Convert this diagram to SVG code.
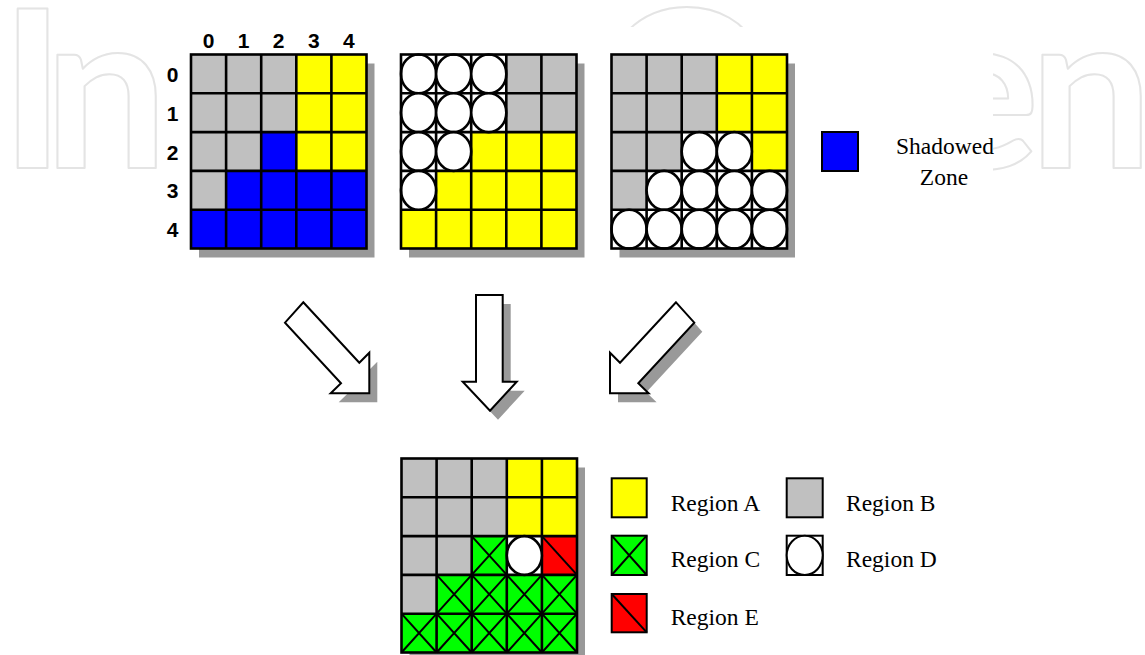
<svg xmlns="http://www.w3.org/2000/svg" xmlns:xlink="http://www.w3.org/1999/xlink" width="1145" height="655" viewBox="0 0 1145 655">
<style>
.wm{font-family:Lato,"Open Sans",sans-serif;font-weight:700;font-size:220px;fill:none;stroke:#e4e4e4;stroke-width:2;stroke-linejoin:round}
.lbl{font-family:"Liberation Sans",Arial,sans-serif;font-weight:700;font-size:21px;fill:#000;text-anchor:middle}
.txt{font-family:"Liberation Serif","Times New Roman",serif;font-size:23.5px;fill:#000}
.sh{fill:#999}
.gy{fill:#c0c0c0}.ye{fill:#ffff00}.bl{fill:#0000ff}.wh{fill:#fff}.gn{fill:#00ff00}.rd{fill:#ff0000}
.ln{fill:none;stroke:#000;stroke-width:2.6}
.ov{fill:#fff;stroke:#000;stroke-width:2.6}
.lg{stroke:#000;stroke-width:2}
.arrow{fill:#fff;stroke:#000;stroke-width:2;stroke-linejoin:miter}
</style>
<defs>
<path id="gl" d="M35.1 0V194M70.2 0V194M105.3 0V194M140.4 0V194M0 38.8H175.5M0 77.6H175.5M0 116.4H175.5M0 155.2H175.5"/>
<ellipse id="ov" cx="17.55" cy="19.4" rx="17.55" ry="19.4"/>
<path id="xx" d="M0 0L35.1 38.8M35.1 0L0 38.8"/>
<polygon id="arL" points="303.3,302.3 359.3,362.7 369.3,352.7 369.3,393.3 330.7,393.3 341,383.3 285,322.7"/>
<polygon id="arM" points="476,295 502.7,295 502.7,381.7 516.7,381.7 490,410.7 462.7,381.7 476,381.7"/>
<polygon id="arR" points="676,302.3 694.3,322.7 638.3,383.3 648.6,393.3 610,393.3 610,352.7 620,362.7"/>
</defs>

<g id="watermark">
<text class="wm" x="0 44" y="168">In</text>
<text class="wm" x="598" y="168">O</text>
<text class="wm" x="922 1029" y="168">en</text>
<rect x="200" y="27" width="793" height="628" fill="#fff"/>
</g>

<g id="grid1">
<g id="grid1-labels" class="lbl">
<text x="208.5" y="48">0</text><text x="243.6" y="48">1</text><text x="278.7" y="48">2</text><text x="313.8" y="48">3</text><text x="348.9" y="48">4</text>
<text x="172.5" y="82">0</text><text x="172.5" y="120.8">1</text><text x="172.5" y="159.6">2</text><text x="172.5" y="198.4">3</text><text x="172.5" y="237.2">4</text>
</g>
<g transform="translate(191,54.5)">
<rect class="sh" x="8" y="9" width="175.5" height="194"/>
<rect class="bl" width="175.5" height="194"/>
<rect class="gy" width="105.3" height="77.6"/>
<rect class="gy" y="77.6" width="70.2" height="38.8"/>
<rect class="gy" y="116.4" width="35.1" height="38.8"/>
<rect class="ye" x="105.3" width="70.2" height="116.4"/>
<use href="#gl" class="ln"/>
<rect class="ln" width="175.5" height="194"/>
</g>
</g>

<g id="grid2" transform="translate(401,54.5)">
<rect class="sh" x="8" y="9" width="175.5" height="194"/>
<rect class="ye" width="175.5" height="194"/>
<rect class="wh" width="105.3" height="77.6"/>
<rect class="wh" y="77.6" width="70.2" height="38.8"/>
<rect class="wh" y="116.4" width="35.1" height="38.8"/>
<rect class="gy" x="105.3" width="70.2" height="77.6"/>
<use href="#gl" class="ln"/>
<g class="ov">
<use href="#ov" x="0" y="0"/><use href="#ov" x="35.1" y="0"/><use href="#ov" x="70.2" y="0"/>
<use href="#ov" x="0" y="38.8"/><use href="#ov" x="35.1" y="38.8"/><use href="#ov" x="70.2" y="38.8"/>
<use href="#ov" x="0" y="77.6"/><use href="#ov" x="35.1" y="77.6"/>
<use href="#ov" x="0" y="116.4"/>
</g>
<rect class="ln" width="175.5" height="194"/>
</g>

<g id="grid3" transform="translate(611.5,54.5)">
<rect class="sh" x="8" y="9" width="175.5" height="194"/>
<rect class="wh" width="175.5" height="194"/>
<rect class="gy" width="105.3" height="77.6"/>
<rect class="gy" y="77.6" width="70.2" height="38.8"/>
<rect class="gy" y="116.4" width="35.1" height="38.8"/>
<rect class="ye" x="105.3" width="70.2" height="77.6"/>
<rect class="ye" x="140.4" y="77.6" width="35.1" height="38.8"/>
<use href="#gl" class="ln"/>
<g class="ov">
<use href="#ov" x="70.2" y="77.6"/><use href="#ov" x="105.3" y="77.6"/>
<use href="#ov" x="35.1" y="116.4"/><use href="#ov" x="70.2" y="116.4"/><use href="#ov" x="105.3" y="116.4"/><use href="#ov" x="140.4" y="116.4"/>
<use href="#ov" x="0" y="155.2"/><use href="#ov" x="35.1" y="155.2"/><use href="#ov" x="70.2" y="155.2"/><use href="#ov" x="105.3" y="155.2"/><use href="#ov" x="140.4" y="155.2"/>
</g>
<rect class="ln" width="175.5" height="194"/>
</g>

<g id="legend-shadowed">
<rect class="bl lg" x="822" y="132" width="36" height="39"/>
<text class="txt" x="945" y="154" text-anchor="middle">Shadowed</text>
<text class="txt" x="944" y="185" text-anchor="middle">Zone</text>
</g>

<g id="connectors">
<g class="sh">
<use href="#arL" transform="translate(8,9)"/>
<use href="#arM" transform="translate(8,9)"/>
<use href="#arR" transform="translate(8,9)"/>
</g>
<g class="arrow">
<use href="#arL"/>
<use href="#arM"/>
<use href="#arR"/>
</g>
</g>

<g id="grid-result" transform="translate(401.5,458.5)">
<rect class="sh" x="8" y="9" width="175.5" height="194"/>
<rect class="gn" width="175.5" height="194"/>
<rect class="gy" width="105.3" height="77.6"/>
<rect class="gy" y="77.6" width="70.2" height="38.8"/>
<rect class="gy" y="116.4" width="35.1" height="38.8"/>
<rect class="ye" x="105.3" width="70.2" height="77.6"/>
<rect class="wh" x="105.3" y="77.6" width="35.1" height="38.8"/>
<rect class="rd" x="140.4" y="77.6" width="35.1" height="38.8"/>
<g class="ln" style="stroke-width:2">
<use href="#xx" x="70.2" y="77.6"/>
<use href="#xx" x="35.1" y="116.4"/><use href="#xx" x="70.2" y="116.4"/><use href="#xx" x="105.3" y="116.4"/><use href="#xx" x="140.4" y="116.4"/>
<use href="#xx" x="0" y="155.2"/><use href="#xx" x="35.1" y="155.2"/><use href="#xx" x="70.2" y="155.2"/><use href="#xx" x="105.3" y="155.2"/><use href="#xx" x="140.4" y="155.2"/>
<path d="M140.4 77.6L175.5 116.4"/>
</g>
<use href="#gl" class="ln"/>
<use href="#ov" class="ov" x="105.3" y="77.6"/>
<rect class="ln" width="175.5" height="194"/>
</g>

<g id="legend-a">
<rect class="ye lg" x="611.7" y="478.3" width="35" height="39"/>
<text class="txt" x="670.7" y="510.7">Region A</text>
</g>
<g id="legend-b">
<rect class="gy lg" x="786.7" y="478.3" width="36" height="39"/>
<text class="txt" x="846" y="510.7">Region B</text>
</g>
<g id="legend-c">
<rect class="gn lg" x="611.7" y="535.7" width="35" height="39.3"/>
<path class="lg" d="M611.7 535.7L646.7 575M646.7 535.7L611.7 575"/>
<text class="txt" x="670.7" y="567.3">Region C</text>
</g>
<g id="legend-d">
<rect class="wh lg" x="786.7" y="535.7" width="36" height="39.3"/>
<ellipse cx="804.7" cy="555.35" rx="18" ry="19.65" fill="#fff" stroke="#000" stroke-width="2"/>
<text class="txt" x="846" y="567.3">Region D</text>
</g>
<g id="legend-e">
<rect class="rd lg" x="611.7" y="594" width="35" height="38.3"/>
<path class="lg" d="M611.7 594L646.7 632.3"/>
<text class="txt" x="670.7" y="625">Region E</text>
</g>
</svg>
